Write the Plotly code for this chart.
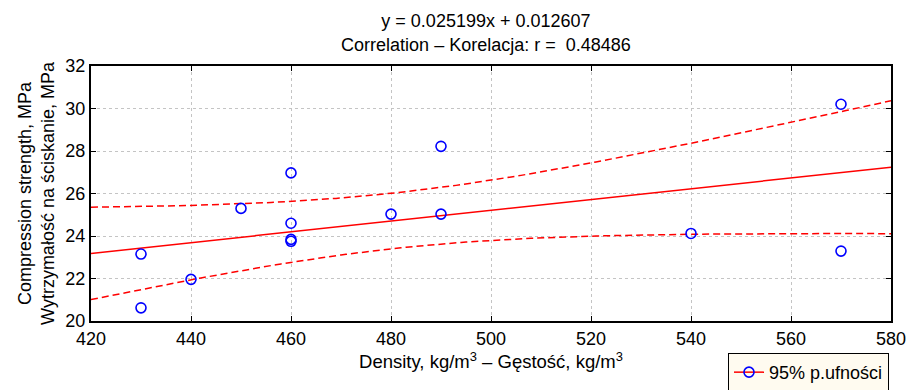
import numpy as np
import plotly.graph_objects as go

# Data
density = [430, 430, 440, 450, 460, 460, 460, 460, 480, 490, 490, 540, 570, 570]
strength = [23.15, 20.62, 21.96, 25.30, 26.97, 24.60, 23.84, 23.75, 25.03, 28.22, 25.03, 24.12, 30.20, 23.29]
t_crit = 2.179  # t(0.975, df=12)
x_range = [420, 580]
y_range = [20, 32]
x_ticks = [420, 440, 460, 480, 500, 520, 540, 560, 580]
y_ticks = [20, 22, 24, 26, 28, 30, 32]

x = np.array(density, dtype=float)
y = np.array(strength, dtype=float)
n = len(x)
slope, intercept = np.polyfit(x, y, 1)
xs = np.linspace(x_range[0], x_range[1], 161)
fit = slope * xs + intercept
resid = y - (slope * x + intercept)
s = np.sqrt(np.sum(resid ** 2) / (n - 2))
sxx = np.sum((x - x.mean()) ** 2)
half = t_crit * s * np.sqrt(1.0 / n + (xs - x.mean()) ** 2 / sxx)

RED = "#FF0000"
BLUE = "#0000FF"

fig = go.Figure()
fig.add_trace(go.Scatter(x=xs, y=fit + half, mode="lines",
                         line=dict(color=RED, width=1.5, dash="7px,4px"), showlegend=False))
fig.add_trace(go.Scatter(x=xs, y=fit - half, mode="lines",
                         line=dict(color=RED, width=1.5, dash="7px,4px"), showlegend=False))
fig.add_trace(go.Scatter(x=xs, y=fit, mode="lines",
                         line=dict(color=RED, width=1.5), showlegend=False))
fig.add_trace(go.Scatter(x=density, y=strength, mode="markers",
                         marker=dict(symbol="circle-open", size=10, color=BLUE,
                                     line=dict(width=1.6, color=BLUE)),
                         showlegend=False))
fig.add_trace(go.Scatter(x=[None], y=[None], mode="lines+markers",
                         name="95% p.ufności",
                         line=dict(color=RED, width=1.5),
                         marker=dict(symbol="circle-open", size=10, color=BLUE,
                                     line=dict(width=1.6, color=BLUE))))

axis_common = dict(
    showline=True, linecolor="black", linewidth=2, mirror="ticks",
    ticks="inside", ticklen=5, tickcolor="black", tickwidth=1,
    showgrid=True, gridcolor="#C4C4C4", griddash="dot", gridwidth=1,
    zeroline=False, tickfont=dict(size=18, color="black"), automargin=False,
)

fig.update_layout(
    width=910, height=390,
    margin=dict(l=91, r=19, t=66, b=69, autoexpand=False),
    paper_bgcolor="white", plot_bgcolor="white",
    font=dict(family="Liberation Sans, Arial, sans-serif", color="black"),
    title=dict(text="y = 0.025199x + 0.012607<br>Correlation – Korelacja: r =  0.48486",
               x=0.534, xanchor="center", yref="container", y=0.93, yanchor="top",
               font=dict(size=18)),
    xaxis=dict(range=x_range, tickvals=x_ticks, **axis_common,
               title=dict(text="Density, kg/m<sup>3</sup> – Gęstość, kg/m<sup>3</sup>",
                          font=dict(size=18.5), standoff=6)),
    yaxis=dict(range=y_range, tickvals=y_ticks, **axis_common,
               title=dict(text="Compression strength, MPa<br>Wytrzymałość na ściskanie, MPa",
                          font=dict(size=18), standoff=6)),
    legend=dict(xref="container", yref="container", x=0.8, y=0.095,
                xanchor="left", yanchor="top",
                bgcolor="#FFFBF0", bordercolor="black", borderwidth=1,
                font=dict(size=18), itemwidth=30,
                tracegroupgap=0),
)

fig.write_html("out.html", config={"displayModeBar": False},
               post_script="document.body.style.margin='0';document.body.style.overflow='hidden';")
